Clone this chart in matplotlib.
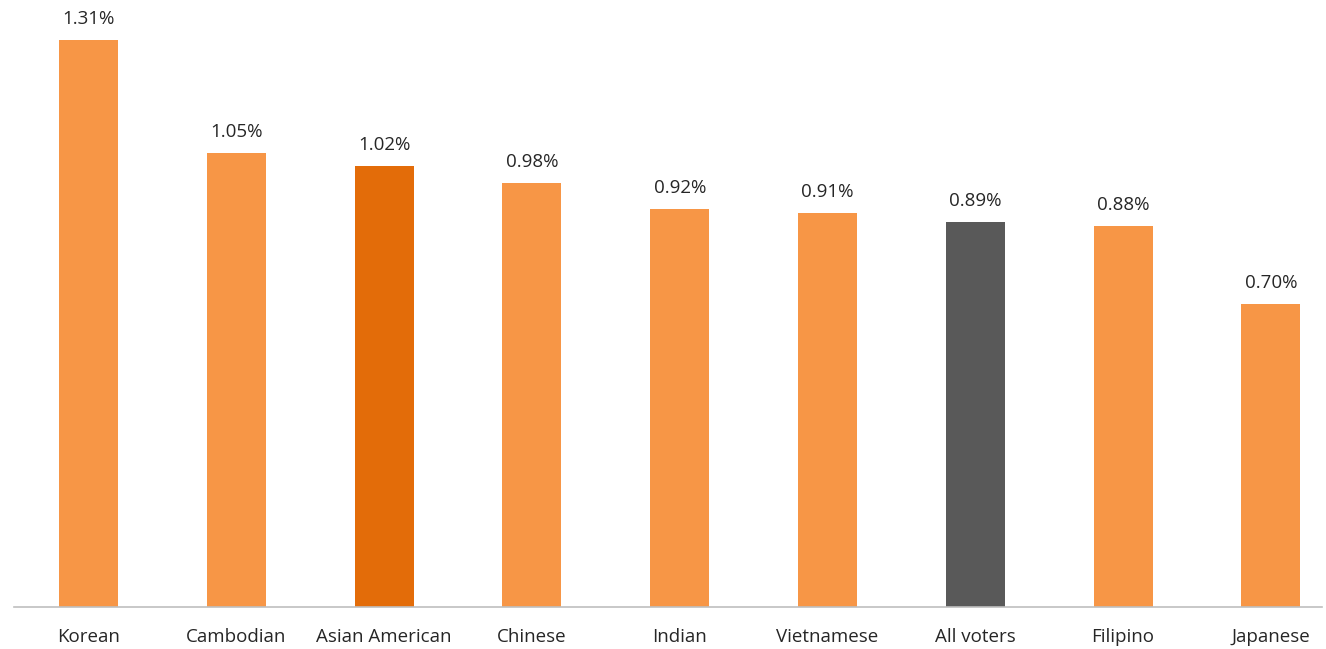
import matplotlib.pyplot as plt

groups = ["Korean", "Cambodian", "Asian American", "Chinese", "Indian",
          "Vietnamese", "All voters", "Filipino", "Japanese"]
values = [1.31, 1.05, 1.02, 0.98, 0.92, 0.91, 0.89, 0.88, 0.70]
labels = ["1.31%", "1.05%", "1.02%", "0.98%", "0.92%", "0.91%", "0.89%", "0.88%", "0.70%"]

light = "#F79646"
colors = [light, light, "#E36C09", light, light, light, "#595959", light, light]

plt.rcParams['font.family'] = ['Open Sans', 'DejaVu Sans']

fig = plt.figure(figsize=(13.26, 6.49), dpi=100)
ax = fig.add_axes([0.0, 42 / 649, 1.0, 607 / 649])

x = range(len(groups))
ax.bar(x, values, width=0.4, color=colors)

for i, v in enumerate(values):
    ax.annotate(labels[i], (i, v), xytext=(0, 8.5), textcoords="offset points",
                ha="center", va="bottom", fontsize=13.5, color="#262626")

ax.set_xlim(-0.599, 8.373)
ax.set_ylim(0, 607 / 432.8)
ax.set_xticks(list(x))
ax.set_xticklabels(groups, fontsize=13.5, color="#262626")
ax.tick_params(axis="x", length=0, pad=15)
ax.set_yticks([])

for s in ["top", "right", "left"]:
    ax.spines[s].set_visible(False)
ax.spines["bottom"].set_color("#BFBFBF")
ax.spines["bottom"].set_linewidth(1.2)
ax.spines["bottom"].set_bounds(-0.504, 8.345)

fig.savefig("out.png", dpi=100)
